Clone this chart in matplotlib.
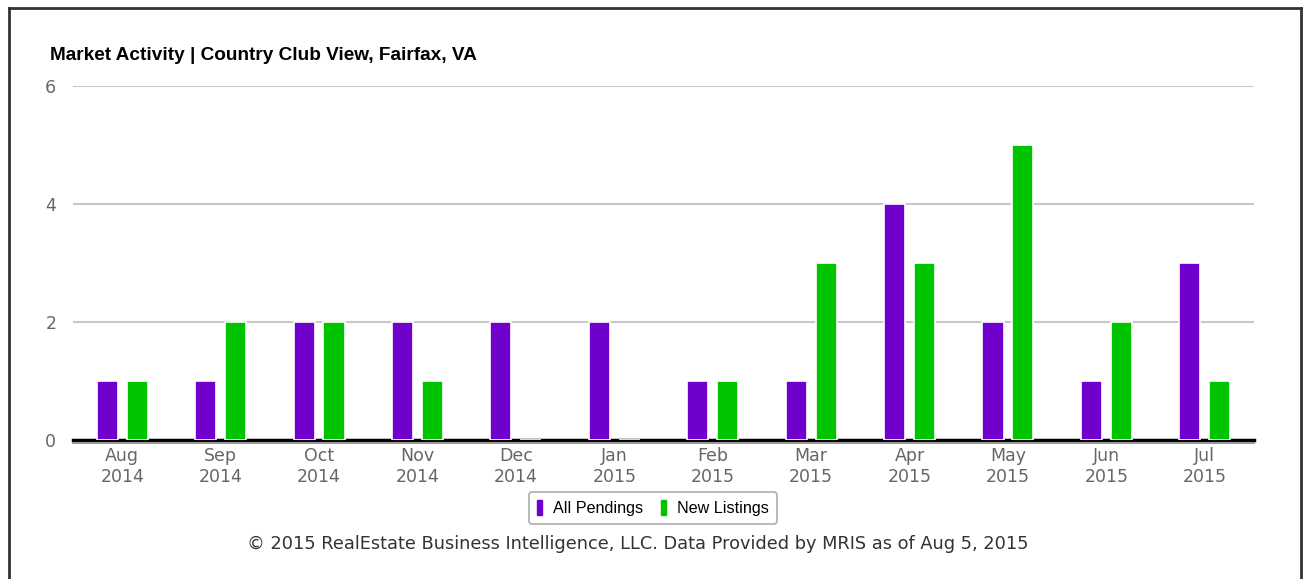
import matplotlib
matplotlib.use("Agg")
import matplotlib.pyplot as plt
from matplotlib.patches import Patch
from matplotlib.lines import Line2D
import numpy as np

months = ["Aug\n2014", "Sep\n2014", "Oct\n2014", "Nov\n2014", "Dec\n2014", "Jan\n2015",
          "Feb\n2015", "Mar\n2015", "Apr\n2015", "May\n2015", "Jun\n2015", "Jul\n2015"]
all_pendings = [1, 1, 2, 2, 2, 2, 1, 1, 4, 2, 1, 3]
new_listings = [1, 2, 2, 1, 0, 0, 1, 3, 3, 5, 2, 1]
yticks = [0, 2, 4, 6]

PURPLE = "#7000CC"
GREEN = "#00C400"

fig = plt.figure(figsize=(13.04, 5.79), dpi=100)
ax = fig.add_axes([73/1304, 1-440/579, (1254-73)/1304, (440-86)/579])

x = np.arange(len(months))
off, w = 0.152, 0.215
ax.bar(x - off, all_pendings, w, color=PURPLE, edgecolor="white", linewidth=1.2, zorder=3)
ax.bar(x + off, new_listings, w, color=GREEN, edgecolor="white", linewidth=1.2, zorder=3)

ax.set_xlim(-0.5, len(months) - 0.5)
ax.set_ylim(0, 6)
ax.tick_params(length=0, labelsize=12.5, labelcolor="#666666")
ax.tick_params(axis="y", pad=12)
ax.tick_params(axis="x", pad=3)
ax.set_yticks(yticks)
ax.set_yticklabels([str(v) for v in yticks])
ax.set_xticks(x)
ax.set_xticklabels(months)
for lab in ax.get_xticklabels():
    lab.set_linespacing(1.12)
    lab.set_fontsize(12.5)
ax.grid(axis="y", color="#C8C8C8", linewidth=1.5, zorder=0)
for s in ["top", "right", "left"]:
    ax.spines[s].set_visible(False)
ax.spines["bottom"].set_color("#999999")
ax.spines["bottom"].set_linewidth(1.5)
ax.spines["bottom"].set_position(("outward", 2))
ax.axhline(0, color="black", linewidth=2.5, zorder=2, clip_on=False)

fig.text(50/1304, 1-55/579, "Market Activity | Country Club View, Fairfax, VA",
         family="Liberation Sans", fontweight="bold", fontsize=13.7, va="center", ha="left")

handles = [Patch(facecolor=PURPLE, edgecolor=PURPLE), Patch(facecolor=GREEN, edgecolor=GREEN)]
leg = fig.legend(handles, ["All Pendings", "New Listings"], loc="center",
                 bbox_to_anchor=(653/1304, 1-508/579), ncol=2, frameon=True, fancybox=True,
                 prop={"family": "Liberation Sans", "size": 11.6}, handlelength=0.3,
                 handleheight=1.1, handletextpad=0.7, columnspacing=1.1,
                 borderpad=0.5, borderaxespad=0, edgecolor="#999999")
leg.get_frame().set_linewidth(1.2)

fig.text(638/1304, 1-544/579,
         "\u00a9 2015 RealEstate Business Intelligence, LLC. Data Provided by MRIS as of Aug 5, 2015",
         ha="center", va="center", fontsize=12.8, color="#333333")

# outer frame
fig.add_artist(Line2D([9/1304, 9/1304], [0, 1-8/579], color="#333333", linewidth=2))
fig.add_artist(Line2D([9/1304, 1301/1304], [1-8/579, 1-8/579], color="#333333", linewidth=2))
fig.add_artist(Line2D([1301/1304, 1301/1304], [0, 1-8/579], color="#333333", linewidth=2))

fig.savefig("out.png", dpi=100, facecolor="white")
